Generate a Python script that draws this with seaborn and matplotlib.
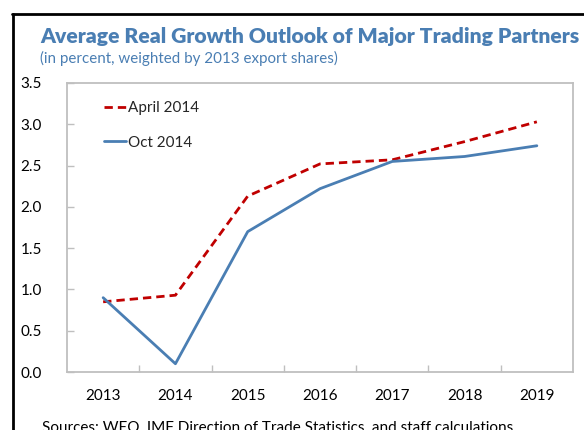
import matplotlib
matplotlib.use("Agg")
import matplotlib.pyplot as plt
import seaborn as sns
import pandas as pd
from matplotlib.lines import Line2D
from matplotlib.ticker import MultipleLocator, FixedLocator

years = [2013, 2014, 2015, 2016, 2017, 2018, 2019]
april_2014 = [0.85, 0.93, 2.13, 2.52, 2.57, 2.79, 3.03]
oct_2014 = [0.90, 0.10, 1.70, 2.22, 2.55, 2.61, 2.74]
series_names = ["April 2014", "Oct 2014"]

sns.set_theme(style="white")
plt.rcParams['font.family'] = ['Lato', 'DejaVu Sans']

RED = "#C00000"
BLUE = "#4A7EB3"
TITLE = "#4A7EB3"

df = pd.DataFrame({
    "year": years * 2,
    "value": april_2014 + oct_2014,
    "series": [series_names[0]] * len(years) + [series_names[1]] * len(years),
})

fig = plt.figure(figsize=(5.84, 4.30), dpi=100)
ax = fig.add_axes([67/584, 1 - 372/430, (573-67)/584, (372-83)/430])

sns.lineplot(data=df[df.series == series_names[0]], x="year", y="value", ax=ax,
             color=RED, lw=2.0, label=series_names[0])
sns.lineplot(data=df[df.series == series_names[1]], x="year", y="value", ax=ax,
             color=BLUE, lw=2.0, label=series_names[1])
ax.lines[0].set_dashes((3, 1.8))

ax.set_xlim(2012.5, 2019.5)
ax.set_ylim(0, 3.5)
ax.set_xlabel("")
ax.set_ylabel("")
ax.set_xticks(years)
ax.set_xticklabels([str(y) for y in years])
ax.xaxis.set_minor_locator(FixedLocator([y + 0.5 for y in years[:-1]]))
ax.yaxis.set_major_locator(MultipleLocator(0.5))
ax.set_yticklabels([f"{v:.1f}" for v in ax.get_yticks()])
ax.tick_params(axis='x', which='major', length=0, pad=12, labelsize=11, colors='black')
ax.tick_params(axis='x', which='minor', length=5, width=1, direction='in', color='#BFBFBF', bottom=True)
ax.tick_params(axis='y', which='major', length=5, width=1, direction='in', color='#BFBFBF', left=True, pad=18, labelsize=11, colors='black')
for s in ax.spines.values():
    s.set_color('#BFBFBF')
    s.set_linewidth(1.3)

leg = ax.legend(loc='upper left', bbox_to_anchor=(0.045, 0.985), frameon=False,
                fontsize=11, handlelength=1.5, handletextpad=0.1, labelspacing=1.35)

fig.text(40/584, 1 - 37/430, "Average Real Growth Outlook of Major Trading Partners",
         color=TITLE, fontsize=15.2, fontweight='heavy', va='center', ha='left')
fig.text(40/584, 1 - 58/430, "(in percent, weighted by 2013 export shares)",
         color=TITLE, fontsize=10.9, va='center', ha='left')
fig.text(42/584, 1 - 428/430, "Sources: WEO, IMF Direction of Trade Statistics, and staff calculations.",
         color='black', fontsize=11, va='center', ha='left')

fig.add_artist(Line2D([13/584, 13/584], [0, 1 - 14/430], color='black', lw=2, transform=fig.transFigure))
fig.add_artist(Line2D([12/584, 1.0], [1 - 14/430, 1 - 14/430], color='black', lw=2, transform=fig.transFigure))

fig.savefig("out.png", dpi=100)
